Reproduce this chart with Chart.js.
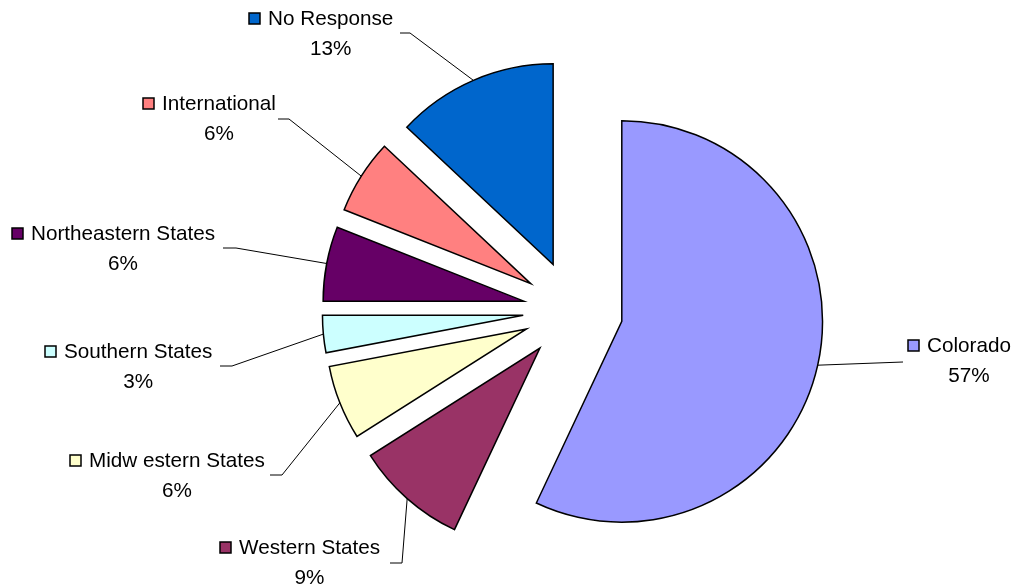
<!DOCTYPE html>
<html>
<head>
<meta charset="utf-8">
<script src="https://cdn.jsdelivr.net/npm/chart.js@4.4.1/dist/chart.umd.min.js"></script>
<style>
  html, body { margin: 0; padding: 0; background: #fff; }
  #wrap { width: 1011px; height: 586px; position: relative; }
</style>
</head>
<body>
<div id="wrap"><canvas id="regionChart"></canvas></div>
<script>
// data
const regions = ['Colorado', 'Western States', 'Midw estern States', 'Southern States', 'Northeastern States', 'International', 'No Response']
const shares = [57, 9, 6, 3, 6, 6, 13]
const sliceColors = ['#9999FF', '#993366', '#FFFFCC', '#CCFFFF', '#660066', '#FF8080', '#0066CC']

// label placement (left edge of name text, middle of first line)
const labelX = [927, 239, 89, 64, 31, 162, 268]
const labelY = [346, 548, 461, 352, 234, 104, 19]
// leader line points on the label side, then it runs to the slice edge
const leaders = [
    [[903, 362]],
    [[390, 563], [402, 563]],
    [[270, 475], [282, 475]],
    [[220, 366], [232, 366]],
    [[223, 248], [236, 248]],
    [[278, 119], [289, 119]],
    [[400, 33], [410, 33]]
]

const EXPLODE = 50
const FONT = '20.7px "Liberation Sans", Arial, sans-serif'

const total = shares.reduce((a, b) => a + b, 0)

const explodePlugin = {
    id: 'explode',
    beforeDatasetDraw(chart, args) {
        const ctx = chart.ctx
        args.meta.data.forEach(arc => {
            const mid = (arc.startAngle + arc.endAngle) / 2
            ctx.save()
            ctx.translate(Math.cos(mid) * EXPLODE, Math.sin(mid) * EXPLODE)
            arc.draw(ctx)
            ctx.restore()
        })
        return false
    },
    afterDatasetsDraw(chart) {
        const ctx = chart.ctx
        const arcs = chart.getDatasetMeta(0).data
        ctx.save()
        arcs.forEach((arc, i) => {
            const mid = (arc.startAngle + arc.endAngle) / 2
            const r = arc.outerRadius + EXPLODE
            const ex = arc.x + Math.cos(mid) * r
            const ey = arc.y + Math.sin(mid) * r

            // leader line
            ctx.strokeStyle = '#000'
            ctx.lineWidth = 1
            ctx.beginPath()
            const pts = leaders[i]
            ctx.moveTo(pts[0][0], pts[0][1])
            for (let k = 1; k < pts.length; k++) ctx.lineTo(pts[k][0], pts[k][1])
            ctx.lineTo(ex, ey)
            ctx.stroke()

            // key + name
            ctx.font = FONT
            ctx.textBaseline = 'middle'
            ctx.textAlign = 'left'
            const name = regions[i]
            const w = ctx.measureText(name).width
            ctx.fillStyle = sliceColors[i]
            ctx.fillRect(labelX[i] - 19, labelY[i] - 6, 11, 11)
            ctx.strokeStyle = '#000'
            ctx.lineWidth = 1.5
            ctx.strokeRect(labelX[i] - 19, labelY[i] - 6, 11, 11)
            ctx.fillStyle = '#000'
            ctx.fillText(name, labelX[i], labelY[i])

            // percentage
            ctx.textAlign = 'center'
            const pct = Math.round(shares[i] / total * 100) + '%'
            ctx.fillText(pct, labelX[i] + w / 2, labelY[i] + 30)
        })
        ctx.restore()
    }
}

const REGION_CHART = document.getElementById('regionChart')

new Chart(REGION_CHART, {
    type: 'pie',
    data: {
        labels: regions,
        datasets: [{
            data: shares,
            backgroundColor: sliceColors,
            borderColor: '#000',
            borderWidth: 1.5,
            borderJoinStyle: 'miter'
        }]
    },
    options: {
        responsive: true,
        maintainAspectRatio: false,
        animation: false,
        layout: {
            padding: { top: 109, bottom: 74, left: 371, right: 236 }
        },
        plugins: {
            legend: { display: false },
            tooltip: { enabled: false }
        }
    },
    plugins: [explodePlugin]
});
</script>
</body>
</html>
